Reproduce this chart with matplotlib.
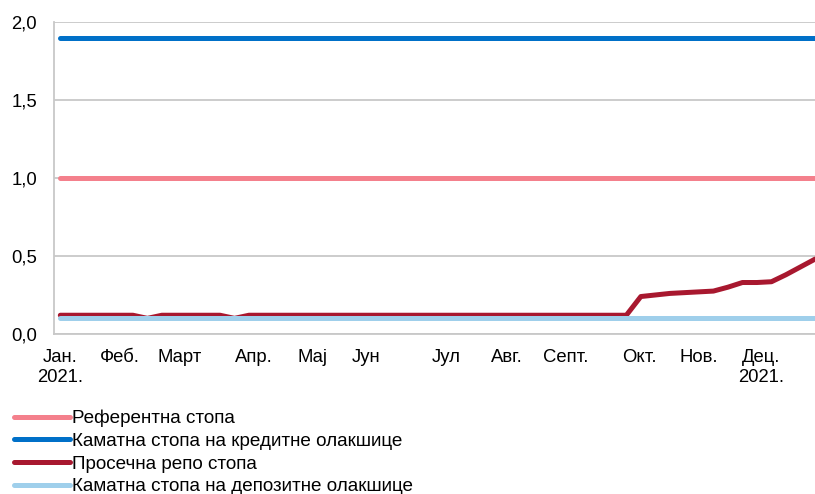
import numpy as np
import matplotlib
matplotlib.use("Agg")
from matplotlib import pyplot as plt
from matplotlib.ticker import FuncFormatter

plt.rcParams['font.family'] = ['Liberation Sans', 'DejaVu Sans']

# weekly observations, Jan 2021 - Dec 2021
weeks = np.arange(53)
referent = [1.0] * 53
credit = [1.9] * 53
deposit = [0.1] * 53
repo = [0.12, 0.12, 0.12, 0.12, 0.12, 0.12, 0.10, 0.12, 0.12, 0.12,
        0.12, 0.12, 0.10, 0.12, 0.12, 0.12, 0.12, 0.12, 0.12, 0.12,
        0.12, 0.12, 0.12, 0.12, 0.12, 0.12, 0.12, 0.12, 0.12, 0.12,
        0.12, 0.12, 0.12, 0.12, 0.12, 0.12, 0.12, 0.12, 0.12, 0.12,
        0.24, 0.25, 0.26, 0.265, 0.27, 0.275, 0.30, 0.33, 0.33, 0.335,
        0.38, 0.43, 0.48]

month_pos = [0, 4.1, 8.2, 13.3, 17.4, 21.1, 26.6, 30.8, 34.8, 39.9, 44.0, 48.3]
month_labels = ["Јан.\n2021.", "Феб.", "Март", "Апр.", "Мај", "Јун", "Јул",
                "Авг.", "Септ.", "Окт.", "Нов.", "Дец.\n2021."]

series = [("Референтна стопа", referent, "#F4808C"),
          ("Каматна стопа на кредитне олакшице", credit, "#0070C8"),
          ("Просечна репо стопа", repo, "#A8182F"),
          ("Каматна стопа на депозитне олакшице", deposit, "#9FCFEB")]

fig = plt.figure(figsize=(8.15, 4.94), dpi=100)
ax = fig.add_axes([0.066, 0.324, 0.934, 0.631])

for name, vals, col in series:
    ax.plot(weeks, vals, color=col, lw=3.6, label=name, solid_capstyle='round')

ax.set_ylim(0, 2.0)
ax.set_yticks([0, 0.5, 1.0, 1.5, 2.0])
ax.yaxis.set_major_formatter(FuncFormatter(lambda v, p: ("%.1f" % v).replace(".", ",")))
ax.set_xlim(-0.45, 52)
ax.set_xticks(month_pos)
ax.set_xticklabels(month_labels)
ax.tick_params(axis='both', length=0, labelsize=13.3)
ax.tick_params(axis='x', pad=11)
ax.tick_params(axis='y', pad=12)
ax.grid(axis='y', color='#C8C8C8', lw=1.3)
ax.set_axisbelow(True)
for s in ['top', 'right']:
    ax.spines[s].set_visible(False)
for s in ['left', 'bottom']:
    ax.spines[s].set_color('#C8C8C8')
    ax.spines[s].set_linewidth(1.3)

fig.legend(loc='upper left', bbox_to_anchor=(0.0085, 0.186), frameon=False,
           fontsize=13.6, handlelength=2.92, handletextpad=0.15,
           labelspacing=0.29, borderaxespad=0)

fig.savefig("out.png", dpi=100)
